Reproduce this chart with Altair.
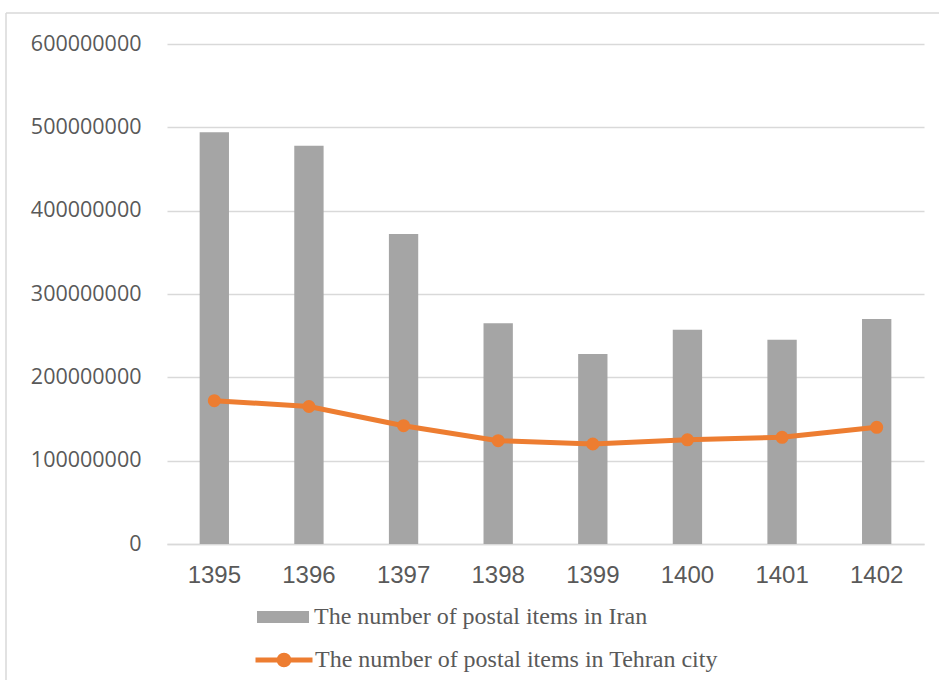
import altair as alt
import pandas as pd

# Postal items per year (Iranian calendar)
years = ["1395", "1396", "1397", "1398", "1399", "1400", "1401", "1402"]
iran_items = [494e6, 478e6, 372e6, 265e6, 228e6, 257e6, 245e6, 270e6]
tehran_items = [172e6, 165e6, 142e6, 124e6, 120e6, 125e6, 128e6, 140e6]
y_ticks = [0, 100000000, 200000000, 300000000, 400000000, 500000000, 600000000]

IRAN = "The number of postal items in Iran"
TEHRAN = "The number of postal items in Tehran city"

BAR_GREY = "#a5a5a5"
ORANGE = "#ed7d31"
GRID = "#d9d9d9"
TEXT = "#595959"

W, H = 757, 500

df = pd.DataFrame({
    "year": years,
    "iran": iran_items,
    "tehran": tehran_items,
    "iran_series": [IRAN] * len(years),
    "tehran_series": [TEHRAN] * len(years),
})

x_enc = alt.X(
    "year:N",
    sort=years,
    title=None,
    scale=alt.Scale(paddingInner=0.69, paddingOuter=0.345),
    axis=alt.Axis(
        labelAngle=0, labelFont="Liberation Sans", labelFontSize=24,
        labelColor=TEXT, labelPadding=19, ticks=False, grid=False,
        domain=True, domainColor=GRID, domainWidth=1.5,
    ),
)

y_scale = alt.Scale(domain=[0, 600000000])
y_axis = alt.Axis(
    values=y_ticks, format="d", title=None,
    labelFont="Open Sans", labelFontSize=21.5, labelColor=TEXT, labelPadding=26,
    ticks=False, domain=False, grid=True, gridColor=GRID, gridWidth=1.5,
)

legend_common = dict(
    orient="none", title=None, padding=0, labelLimit=0,
    labelFont="Liberation Serif", labelFontSize=24, labelColor=TEXT,
)

bars = alt.Chart(df).mark_bar().encode(
    x=x_enc,
    y=alt.Y("iran:Q", scale=y_scale, axis=y_axis, title=None),
    color=alt.Color(
        "iran_series:N",
        scale=alt.Scale(range=[BAR_GREY]),
        legend=alt.Legend(
            legendX=90, legendY=547,
            symbolType="M-1,-0.23H1V0.23H-1Z", symbolSize=2704,
            symbolStrokeWidth=0, labelOffset=5, **legend_common,
        ),
    ),
)

line_symbol = "M-1,0H1M0.17,0A0.17,0.17 0 1,1 -0.17,0A0.17,0.17 0 1,1 0.17,0Z"

line = alt.Chart(df).mark_line(strokeWidth=5).encode(
    x=x_enc,
    y=alt.Y("tehran:Q", title=None),
    stroke=alt.Stroke(
        "tehran_series:N",
        scale=alt.Scale(range=[ORANGE]),
        legend=alt.Legend(
            legendX=86, legendY=585,
            symbolType=line_symbol, symbolSize=3249,
            symbolStrokeWidth=5, symbolFillColor=ORANGE, labelOffset=0,
            **legend_common,
        ),
    ),
)

points = alt.Chart(df).mark_circle(size=170, color=ORANGE, opacity=1).encode(
    x=x_enc,
    y=alt.Y("tehran:Q", title=None),
)

# Chart-area frame (top and left edges)
frame = alt.Data(values=[{}])
top_edge = alt.Chart(frame).mark_rule(color=GRID, strokeWidth=1.5).encode(
    x=alt.value(-161), x2=alt.value(W + 15), y=alt.value(-31)
)
left_edge = alt.Chart(frame).mark_rule(color=GRID, strokeWidth=1.5).encode(
    x=alt.value(-161), y=alt.value(-31), y2=alt.value(H + 136)
)

chart = (
    alt.layer(top_edge, left_edge, bars, line, points)
    .properties(width=W, height=H, padding={"left": 5, "top": 12, "right": 0, "bottom": 0})
    .configure(background="white")
    .configure_view(stroke=None)
)

chart.save("out.html", embed_options={"renderer": "svg", "actions": False})
